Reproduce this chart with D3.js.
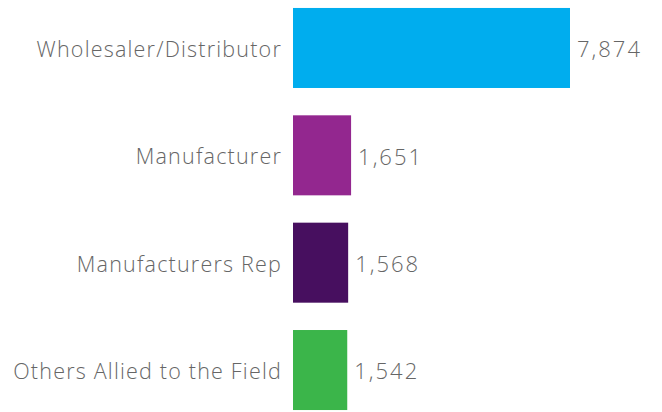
<!DOCTYPE html>
<html>
<head>
<meta charset="utf-8">
<script src="https://cdn.jsdelivr.net/npm/d3@7"></script>
<style>
  body { margin: 0; background: #fff; }
  text { font-family: "Open Sans", sans-serif; font-weight: 300; fill: #666; }
</style>
</head>
<body>
<svg id="chart" width="662" height="412"></svg>
<script>
var categories = ['Wholesaler/Distributor', 'Manufacturer', 'Manufacturers Rep', 'Others Allied to the Field'];
var counts = [7874, 1651, 1568, 1542];
var colors = ['#00adee', '#93278f', '#470f5f', '#3bb54a'];

var svg = d3.select('#chart');
var left = 293;

var rows = categories.map(function(c, i){ return {name: c, value: counts[i], color: colors[i]}; });

var x = d3.scaleLinear().domain([0, 7874]).range([0, 277]);
var y = d3.scaleBand().domain(categories).range([-5.7, 423.7]).paddingInner(0.2546).paddingOuter(0.1273);

var g = svg.append('g').attr('transform', 'translate(' + left + ',0)');

g.selectAll('rect')
  .data(rows)
  .enter()
  .append('rect')
  .attr('x', 0)
  .attr('y', function(d){ return y(d.name); })
  .attr('width', function(d){ return x(d.value); })
  .attr('height', y.bandwidth())
  .style('fill', function(d){ return d.color; });

g.selectAll('text.val')
  .data(rows)
  .enter()
  .append('text')
  .attr('class', 'val')
  .attr('x', function(d){ return x(d.value) + 7; })
  .attr('y', function(d){ return y(d.name) + y.bandwidth()/2; })
  .attr('dy', '0.42em')
  .style('font-size', '22px')
  .style('letter-spacing', '2px')
  .text(function(d){ return d3.format(',')(d.value); });

g.selectAll('text.cat')
  .data(rows)
  .enter()
  .append('text')
  .attr('class', 'cat')
  .attr('x', -11)
  .attr('y', function(d){ return y(d.name) + y.bandwidth()/2; })
  .attr('dy', '0.42em')
  .style('text-anchor', 'end')
  .style('font-size', '21.5px')
  .style('letter-spacing', '1.2px')
  .text(function(d){ return d.name; });
</script>
</body>
</html>
